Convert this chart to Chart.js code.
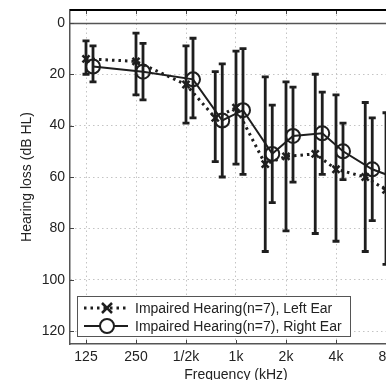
<!DOCTYPE html>
<html>
<head>
<meta charset="utf-8">
<script src="https://cdn.jsdelivr.net/npm/chart.js@4/dist/chart.umd.min.js"></script>
<style>
  html, body { margin: 0; padding: 0; background: #fff; overflow: hidden; }
  #wrap { width: 386px; height: 380px; overflow: hidden; }
</style>
</head>
<body>
<div id="wrap"><canvas id="chart" width="420" height="384"></canvas></div>
<script>
// measured frequencies (Hz)
const frequencies = [125, 250, 500, 750, 1000, 1500, 2000, 3000, 4000, 6000, 8000];

// left ear: mean and error bar ends (dB HL)
const leftEarMean = [14, 15, 24, 37, 33, 55, 52, 51, 57, 60, 65];
const leftEarLow  = [7, 4, 9, 19, 11, 21, 23, 20, 28, 31, 35];
const leftEarHigh = [20, 28, 39, 54, 55, 89, 81, 82, 85, 89, 94];

// right ear
const rightEarMean = [17, 19, 22, 38, 34, 51, 44, 43, 50, 57, 60];
const rightEarLow  = [9, 8, 6, 16, 10, 32, 25, 27, 39, 37, 42];
const rightEarHigh = [23, 30, 37, 60, 59, 70, 62, 59, 61, 77, 85];

const tickFrequencies = [125, 250, 500, 1000, 2000, 4000, 8000];
const tickLabels = ['125', '250', '1/2k', '1k', '2k', '4k', '8k'];
const yTicks = [0, 20, 40, 60, 80, 100, 120];

const seriesLabels = ['Impaired Hearing(n=7), Left Ear', 'Impaired Hearing(n=7), Right Ear'];

const ink = '#1e1e1e';
const rightShift = 0.14; // octaves, so the two ears do not overlap

function octave(f) { return Math.log2(f / 125); }

function points(values, shift) {
  return values.map(function(v, i) { return { x: octave(frequencies[i]) + shift, y: v }; });
}

Chart.defaults.font.family = '"Liberation Sans", Arial, sans-serif';
Chart.defaults.font.size = 14;
Chart.defaults.color = '#222';

const errorBars = {
  id: 'errorBars',
  beforeDatasetsDraw(chart) {
    const { ctx, chartArea, scales: { x, y } } = chart;
    ctx.save();
    ctx.beginPath();
    ctx.rect(chartArea.left, chartArea.top, chartArea.width, chartArea.height);
    ctx.clip();
    chart.data.datasets.forEach(function(ds) {
      ctx.strokeStyle = ink;
      ctx.lineWidth = 2.8;
      ctx.setLineDash([]);
      ds.data.forEach(function(p, i) {
        const px = x.getPixelForValue(p.x);
        const y1 = y.getPixelForValue(ds.errLow[i]);
        const y2 = y.getPixelForValue(ds.errHigh[i]);
        ctx.beginPath();
        ctx.moveTo(px, y1); ctx.lineTo(px, y2);
        ctx.moveTo(px - 3.5, y1); ctx.lineTo(px + 3.5, y1);
        ctx.moveTo(px - 3.5, y2); ctx.lineTo(px + 3.5, y2);
        ctx.stroke();
      });
    });
    ctx.restore();
  }
};

const frame = {
  id: 'frame',
  beforeDatasetsDraw(chart) {
    const { ctx, chartArea: a, scales: { x, y } } = chart;
    ctx.save();
    // reference line at 0 dB
    ctx.strokeStyle = '#555';
    ctx.lineWidth = 1.5;
    const y0 = Math.round(y.getPixelForValue(0)) + 0.5;
    ctx.beginPath(); ctx.moveTo(a.left, y0); ctx.lineTo(a.right, y0); ctx.stroke();
    // inside tick marks
    ctx.strokeStyle = '#444';
    ctx.lineWidth = 1;
    ctx.beginPath();
    tickFrequencies.forEach(function(f) {
      const px = Math.round(x.getPixelForValue(octave(f))) + 0.5;
      ctx.moveTo(px, a.bottom); ctx.lineTo(px, a.bottom - 4);
      ctx.moveTo(px, a.top); ctx.lineTo(px, a.top + 4);
    });
    yTicks.forEach(function(v) {
      const py = Math.round(y.getPixelForValue(v)) + 0.5;
      ctx.moveTo(a.left, py); ctx.lineTo(a.left + 4, py);
    });
    ctx.stroke();
    ctx.restore();
  },
  afterDraw(chart) {
    const { ctx, chartArea: a } = chart;
    ctx.save();
    ctx.strokeStyle = '#000';
    ctx.lineWidth = 2;
    ctx.beginPath(); ctx.moveTo(a.left, a.top); ctx.lineTo(a.right, a.top); ctx.stroke();

    // legend box in lower left corner
    const bx = a.left + 7, by = a.bottom - 48, bw = 273, bh = 40;
    ctx.fillStyle = '#fff';
    ctx.fillRect(bx, by, bw, bh);
    ctx.strokeStyle = '#555';
    ctx.lineWidth = 1;
    ctx.strokeRect(bx + 0.5, by + 0.5, bw, bh);
    const rows = [by + 12, by + 30];
    chart.data.datasets.forEach(function(ds, i) {
      const ry = rows[i];
      const mx = bx + 30;
      ctx.strokeStyle = ink;
      ctx.lineWidth = ds.borderWidth;
      ctx.setLineDash(ds.borderDash || []);
      ctx.beginPath(); ctx.moveTo(bx + 7, ry); ctx.lineTo(bx + 51, ry); ctx.stroke();
      ctx.setLineDash([]);
      ctx.lineWidth = ds.pointBorderWidth;
      const r = ds.pointRadius;
      if (ds.pointStyle === 'circle') {
        ctx.fillStyle = '#fff';
        ctx.beginPath(); ctx.arc(mx, ry, r, 0, Math.PI * 2); ctx.fill(); ctx.stroke();
      } else {
        ctx.beginPath();
        ctx.moveTo(mx - r, ry - r); ctx.lineTo(mx + r, ry + r);
        ctx.moveTo(mx - r, ry + r); ctx.lineTo(mx + r, ry - r);
        ctx.stroke();
      }
      ctx.fillStyle = '#222';
      ctx.font = '14px "Liberation Sans", Arial, sans-serif';
      ctx.textBaseline = 'middle';
      ctx.fillText(seriesLabels[i], bx + 58, ry + 1);
    });
    ctx.restore();
  }
};

new Chart(document.getElementById('chart'), {
  type: 'line',
  data: {
    datasets: [{
      label: seriesLabels[0],
      data: points(leftEarMean, 0),
      errLow: leftEarLow,
      errHigh: leftEarHigh,
      borderColor: ink,
      borderWidth: 3,
      borderDash: [2.5, 4],
      pointStyle: 'crossRot',
      pointRadius: 5,
      pointBorderWidth: 2.5,
      pointBorderColor: ink,
      pointBackgroundColor: 'rgba(0,0,0,0)',
      tension: 0
    }, {
      label: seriesLabels[1],
      data: points(rightEarMean, rightShift),
      errLow: rightEarLow,
      errHigh: rightEarHigh,
      borderColor: ink,
      borderWidth: 2,
      pointStyle: 'circle',
      pointRadius: 7,
      pointBorderWidth: 2,
      pointBorderColor: ink,
      pointBackgroundColor: 'rgba(0,0,0,0)',
      tension: 0
    }]
  },
  options: {
    responsive: false,
    animation: false,
    events: [],
    layout: { padding: { top: 10, right: 18, left: 0, bottom: 0 } },
    plugins: { legend: { display: false }, tooltip: { enabled: false } },
    scales: {
      x: {
        type: 'linear',
        min: -0.32,
        max: 6.32,
        afterBuildTicks: function(s) { s.ticks = tickFrequencies.map(function(f) { return { value: octave(f) }; }); },
        afterFit: function(s) { s.height = 40; s.paddingLeft = 0; s.paddingRight = 0; },
        ticks: {
          padding: 5,
          maxRotation: 0,
          callback: function(v, i) { return tickLabels[i]; }
        },
        grid: { color: '#c4c4c4', lineWidth: 1, drawTicks: false },
        border: { display: true, color: '#555', width: 1.5, dash: [1.5, 3] },
        title: { display: true, text: 'Frequency (kHz)', padding: { top: 0, bottom: 0 } }
      },
      y: {
        type: 'linear',
        reverse: true,
        min: -5,
        max: 125,
        afterBuildTicks: function(s) { s.ticks = yTicks.map(function(v) { return { value: v }; }); },
        afterFit: function(s) { s.width = 70; s.paddingTop = 0; s.paddingBottom = 0; },
        ticks: { padding: 5 },
        grid: {
          color: function(c) { return c.tick && c.tick.value === 0 ? 'rgba(0,0,0,0)' : '#c4c4c4'; },
          lineWidth: 1,
          drawTicks: false
        },
        border: { display: true, color: '#555', width: 1.5, dash: [1.5, 3] },
        title: { display: true, text: 'Hearing loss (dB HL)', padding: { top: 19, bottom: 0 } }
      }
    }
  },
  plugins: [errorBars, frame]
});
</script>
</body>
</html>
